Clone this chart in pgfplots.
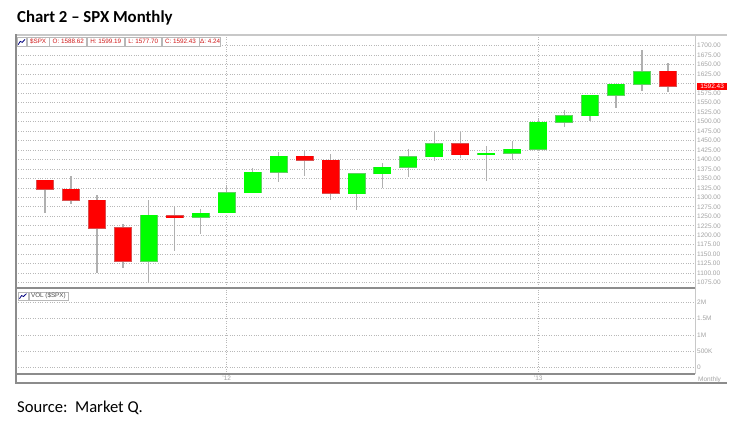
\documentclass[border=0pt]{standalone}
\usepackage{fontspec}
\setmainfont{Carlito}
\newfontfamily\chartfont{Liberation Sans}
\usepackage{pgfplots}
\pgfplotsset{compat=1.18}
\usepackage{pgfplotstable}

\definecolor{candleRed}{HTML}{FF0000}
\definecolor{candleGreen}{HTML}{00FF00}
\definecolor{redEdge}{HTML}{D85050}
\definecolor{greenEdge}{HTML}{60D060}
\definecolor{wick}{HTML}{B0B0B0}
\definecolor{gridc}{HTML}{B8B8B8}
\definecolor{framec}{HTML}{8C8C8C}
\definecolor{framelight}{HTML}{C8C8C8}
\definecolor{lblc}{HTML}{A4A4A4}
\definecolor{hdrred}{HTML}{D01818}
\definecolor{hdrbox}{HTML}{B8B8B8}

% SPX monthly candles: index, open, high, low, close (Jun 2011 - Jun 2013)
\pgfplotstableread{
i O H L C
0 1345.20 1345.20 1258.07 1320.64
1 1320.64 1356.48 1282.86 1292.28
2 1292.59 1307.38 1101.54 1218.89
3 1219.12 1229.29 1114.22 1131.42
4 1131.21 1292.66 1074.77 1253.30
5 1251.00 1277.55 1158.66 1246.96
6 1246.91 1269.37 1202.37 1257.60
7 1258.86 1333.47 1258.86 1312.41
8 1312.45 1378.04 1312.45 1365.68
9 1365.90 1419.15 1340.03 1408.47
10 1408.47 1422.38 1357.38 1397.91
11 1397.86 1415.32 1291.98 1310.33
12 1309.87 1363.46 1266.74 1362.16
13 1362.33 1391.74 1325.41 1379.32
14 1379.32 1426.68 1354.65 1406.58
15 1406.54 1474.51 1396.56 1440.67
16 1440.90 1470.96 1403.28 1412.16
17 1412.20 1434.27 1343.35 1416.18
18 1416.18 1448.00 1398.11 1426.19
19 1426.19 1509.94 1426.19 1498.11
20 1498.11 1530.94 1485.01 1514.68
21 1514.68 1570.28 1501.48 1569.19
22 1569.18 1597.57 1536.03 1597.57
23 1597.55 1687.18 1581.28 1630.74
24 1631.71 1654.19 1577.70 1592.43
}\spx

\tikzset{
  hdr/.style={draw=hdrbox, line width=0.6pt, fill=white, text=hdrred, inner sep=0pt,
    minimum height=9pt, anchor=west, font=\chartfont\fontsize{6.3}{7}\selectfont},
}
\pgfplotsset{
  candle/.style={forget plot, only marks, mark=*, mark options={draw opacity=0, fill opacity=0},
    error bars/y dir=both, error bars/y explicit, error bars/error mark=none},
}

\begin{document}
\begin{tikzpicture}[x=1pt,y=1pt]
\path[use as bounding box, fill=white] (0,0) rectangle (750,423);

% titles
\node[anchor=base west, inner sep=0, font=\bfseries\fontsize{16.8}{20}\selectfont] at (17,400.7) {Chart 2 – SPX Monthly};
\node[anchor=base west, inner sep=0, font=\fontsize{16.6}{20}\selectfont] at (17,10.3) {Source:\ \ Market Q.};

% ---------- price panel ----------
\begin{axis}[
  at={(16pt,136pt)}, anchor=south west,
  scale only axis, width=679pt, height=252pt,
  xmin=-1.117, xmax=25.04, ymin=1063.7, ymax=1727.7,
  axis line style={draw=none},
  major tick length=0pt,
  xtick={7,19}, xticklabel style={text opacity=0}, xmajorgrids,
  ytick={1075,1100,...,1700}, ymajorgrids,
  yticklabels={1075.00,1100.00,1125.00,1150.00,1175.00,1200.00,1225.00,1250.00,1275.00,1300.00,1325.00,1350.00,1375.00,1400.00,1425.00,1450.00,1475.00,1500.00,1525.00,1550.00,1575.00,{},1625.00,1650.00,1675.00,1700.00},
  yticklabel pos=right,
  grid style={gridc, dotted, line width=0.65pt},
  yticklabel style={font=\chartfont\fontsize{6.5}{7}\selectfont, text=lblc, inner sep=2pt},
  clip=false,
]
% wicks
\addplot[candle, error bars/error bar style={wick, line width=1.3pt}]
  table[x=i, y expr={(\thisrow{H}+\thisrow{L})/2}, y error expr={(\thisrow{H}-\thisrow{L})/2}] {\spx};
% up bodies (outline, then fill)
\addplot[candle, restrict expr to domain={\thisrow{C}-\thisrow{O}}{0:10000},
  error bars/error bar style={greenEdge, line width=18pt}]
  table[x=i, y expr={(\thisrow{O}+\thisrow{C})/2}, y error expr={abs(\thisrow{C}-\thisrow{O})/2+1.4}] {\spx};
\addplot[candle, restrict expr to domain={\thisrow{C}-\thisrow{O}}{0:10000},
  error bars/error bar style={candleGreen, line width=16.6pt}]
  table[x=i, y expr={(\thisrow{O}+\thisrow{C})/2}, y error expr={abs(\thisrow{C}-\thisrow{O})/2}] {\spx};
% down bodies
\addplot[candle, restrict expr to domain={\thisrow{C}-\thisrow{O}}{-10000:-0.0001},
  error bars/error bar style={redEdge, line width=18pt}]
  table[x=i, y expr={(\thisrow{O}+\thisrow{C})/2}, y error expr={abs(\thisrow{C}-\thisrow{O})/2+1.4}] {\spx};
\addplot[candle, restrict expr to domain={\thisrow{C}-\thisrow{O}}{-10000:-0.0001},
  error bars/error bar style={candleRed, line width=16.6pt}]
  table[x=i, y expr={(\thisrow{O}+\thisrow{C})/2}, y error expr={abs(\thisrow{C}-\thisrow{O})/2}] {\spx};
\end{axis}

% ---------- volume panel ----------
\begin{axis}[
  at={(16pt,49pt)}, anchor=south west,
  scale only axis, width=679pt, height=85pt,
  xmin=-1.117, xmax=25.04, ymin=-0.2, ymax=2.415,
  axis line style={draw=none},
  major tick length=0pt,
  xtick={7,19}, xticklabels={{\textquoteright12},{\textquoteright13}}, xmajorgrids,
  ytick={0,0.5,1,1.5,2}, yticklabels={0,500K,1M,1.5M,2M}, ymajorgrids,
  yticklabel pos=right,
  grid style={gridc, dotted, line width=0.65pt},
  yticklabel style={font=\chartfont\fontsize{6.5}{7}\selectfont, text=lblc, inner sep=2pt},
  xticklabel style={font=\chartfont\fontsize{6.5}{7}\selectfont, text=lblc, inner sep=1.5pt},
]
\end{axis}

% frame
\draw[framelight, line width=1.4pt] (16,388) -- (727,388);
\draw[framelight, line width=1pt] (695,388) -- (695,49);
\draw[framec, line width=1.3pt] (16,135) -- (695,135);
\draw[framec, line width=1.3pt] (16,49) -- (695,49);
\draw[framec, line width=1.3pt] (16,40) -- (727,40);
\draw[framec, line width=1.8pt] (16,388.7) -- (16,39.3);

% price marker
\node[fill=candleRed, text=white, inner sep=0pt, minimum width=30pt, minimum height=7.6pt,
  anchor=west, font=\chartfont\fontsize{6.5}{7}\selectfont] at (697,336.6) {1592.43};

% "Monthly"
\node[anchor=west, inner sep=0pt, text=lblc, font=\chartfont\fontsize{6.5}{7}\selectfont] at (698,43.5) {Monthly};

% header legend
\node[hdr, minimum width=9.5pt] (h0) at (16.7,381.5) {};
\draw[blue!50!black, line width=0.8pt] (18.2,378.3) -- (20.2,381.6) -- (22.2,380.6) -- (25,383.6);
\node[hdr, minimum width=22pt] (h1) at (h0.east) {\$SPX};
\node[hdr, minimum width=37pt] (h2) at (h1.east) {O: 1588.62};
\node[hdr, minimum width=37pt] (h3) at (h2.east) {H: 1599.19};
\node[hdr, minimum width=36.5pt] (h4) at (h3.east) {L: 1577.70};
\node[hdr, minimum width=37pt] (h5) at (h4.east) {C: 1592.43};
\node[hdr, minimum width=21pt] (h6) at (h5.east) {Δ: 4.24};

% volume legend
\node[hdr, minimum width=10pt, minimum height=8pt] (v0) at (18,127) {};
\draw[blue!50!black, line width=0.8pt] (19.5,124.3) -- (21.5,127.4) -- (23.5,126.5) -- (26.5,129.4);
\node[hdr, minimum width=39pt, minimum height=8pt, text=black!70] (v1) at (v0.east) {VOL (\$SPX)};
\end{tikzpicture}
\end{document}
